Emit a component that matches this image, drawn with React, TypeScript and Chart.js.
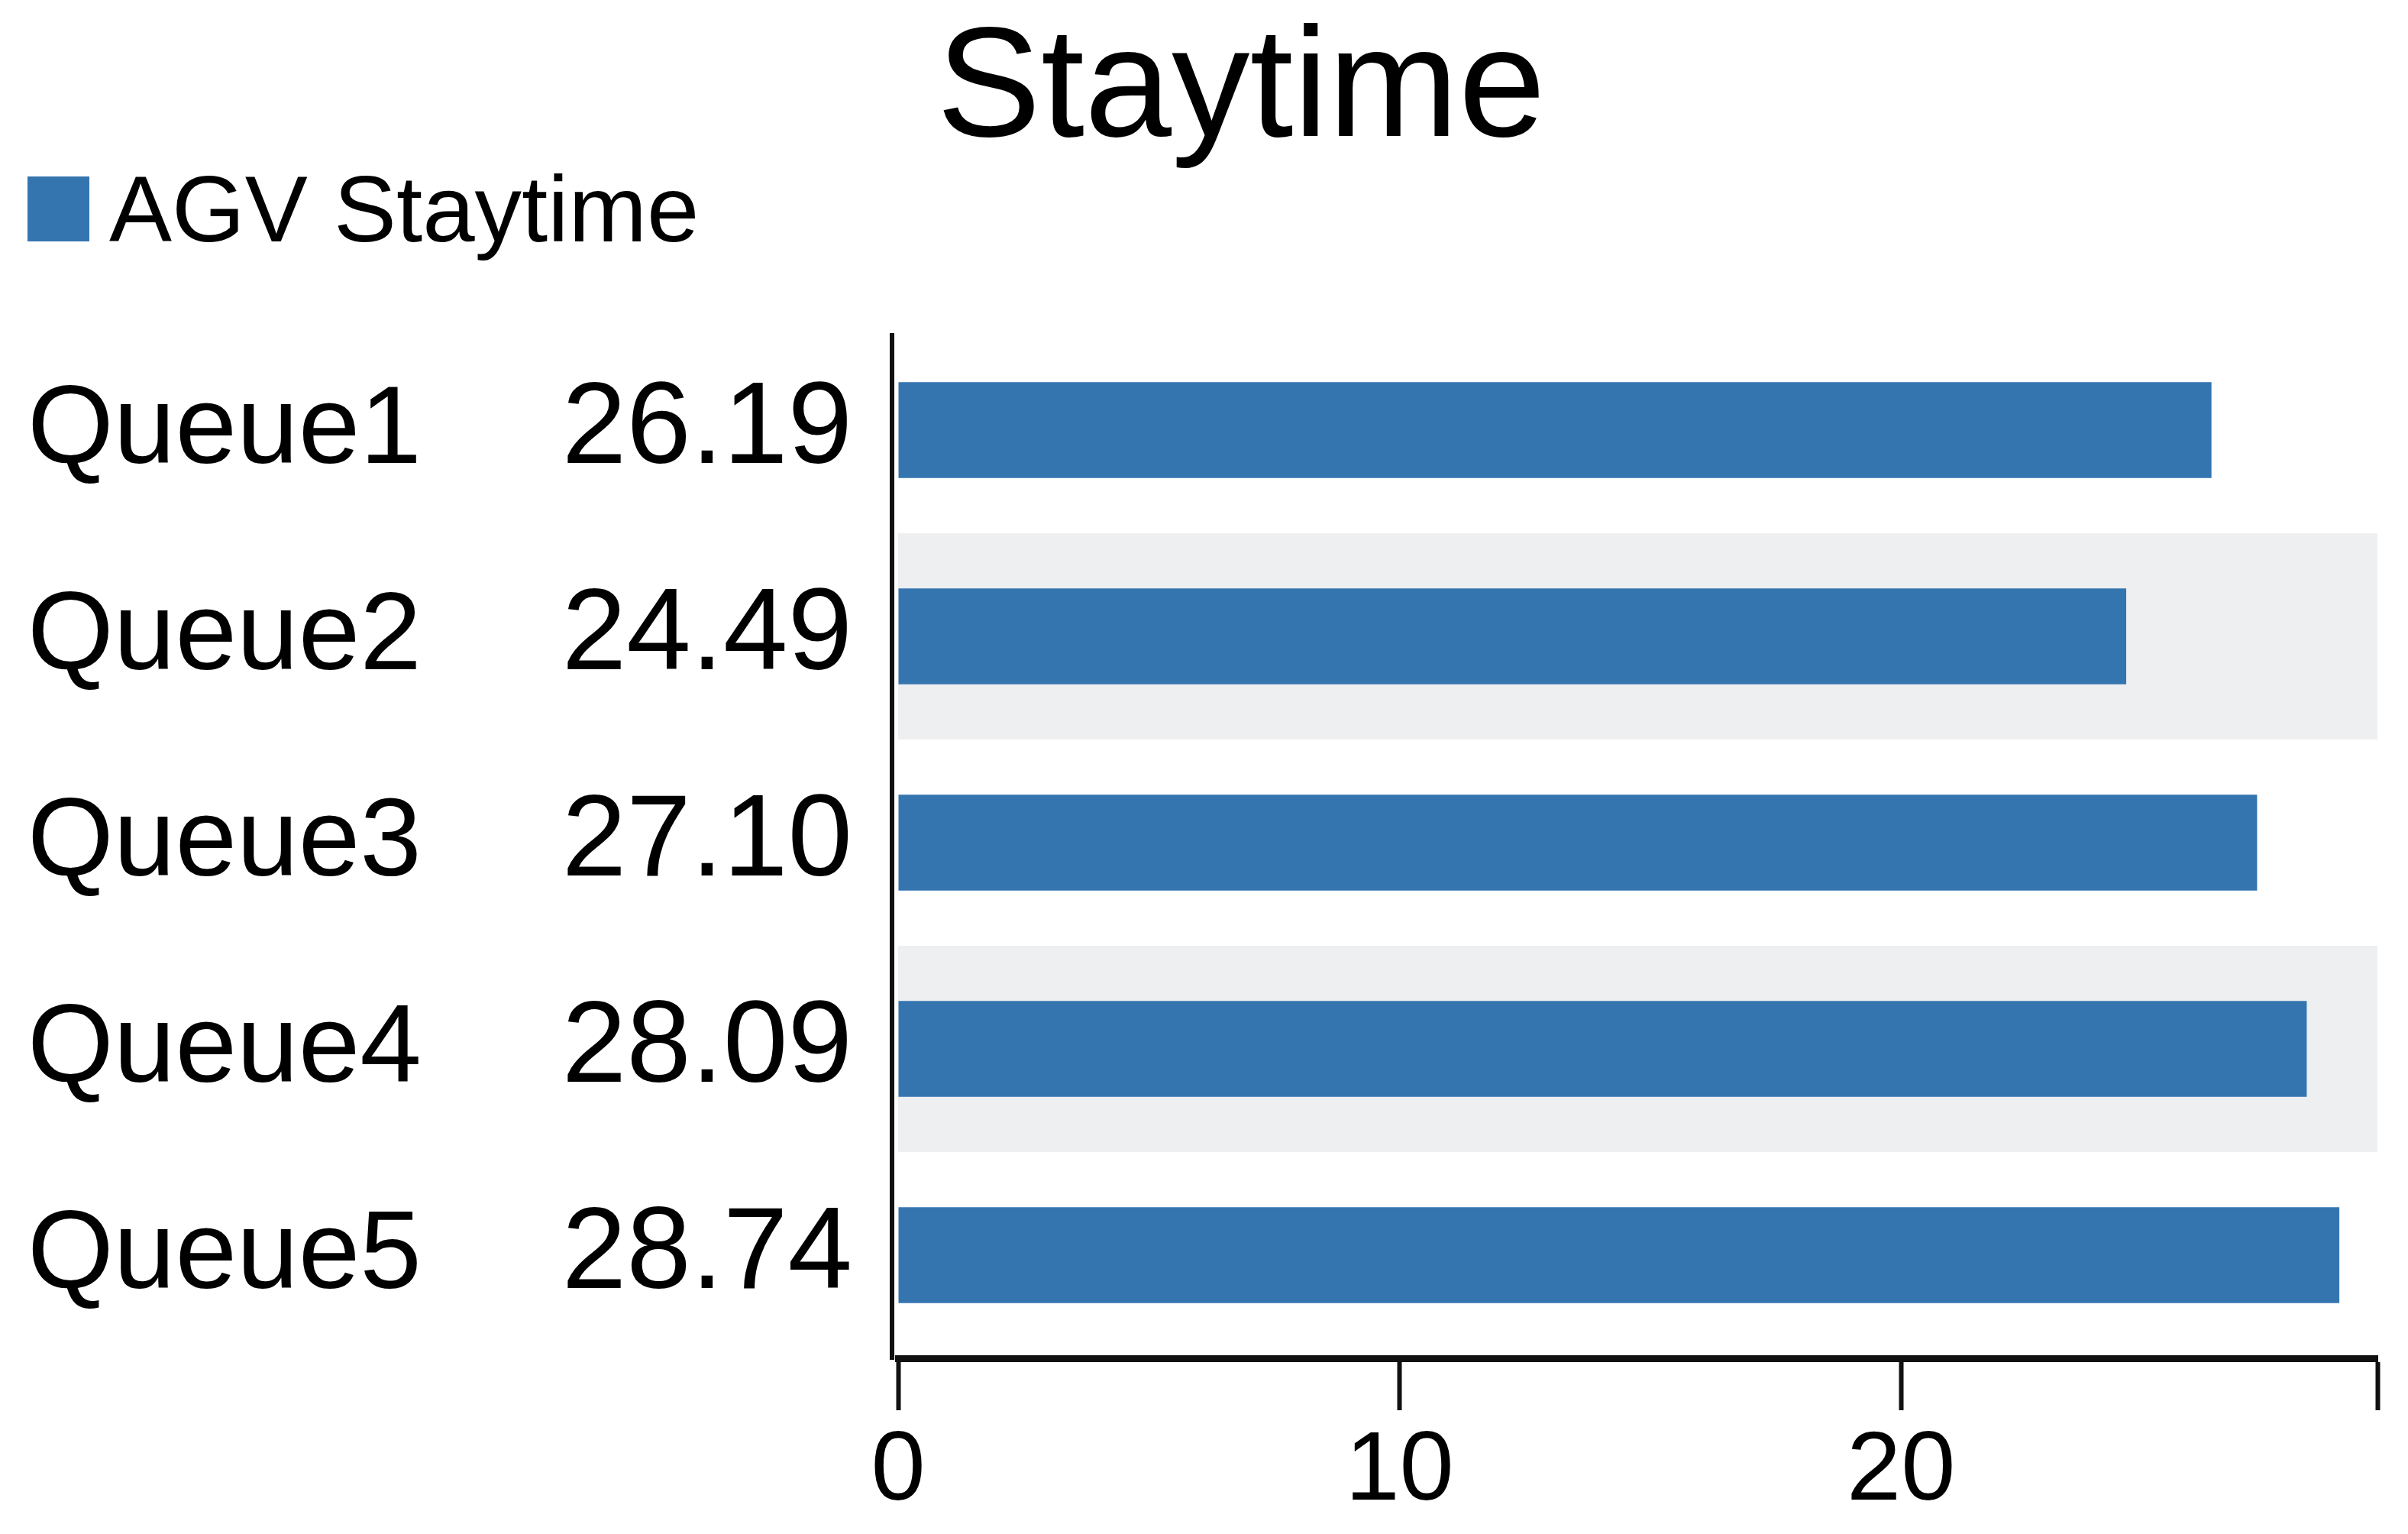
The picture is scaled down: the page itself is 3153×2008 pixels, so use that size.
import React, { useEffect, useRef } from "react";
import { Chart, registerables } from "chart.js";

Chart.register(...registerables);

const categories = ["Queue1", "Queue2", "Queue3", "Queue4", "Queue5"];
const staytime = [26.19, 24.49, 27.1, 28.09, 28.74];
const valueLabels = ["26.19", "24.49", "27.10", "28.09", "28.74"];
const xTickValues = [0, 10, 20];
const xMax = 29.5;
const shadedRows = [1, 3];
const titleText = "Staytime";
const seriesName = "AGV Staytime";

const W = 3153;
const H = 2008;
const FONT = '"Liberation Sans", Arial, Helvetica, sans-serif';
const BAR_COLOR = "#3475b0";
const BAND_COLOR = "#eeeff1";

export default function App() {
  const ref = useRef<HTMLCanvasElement | null>(null);

  useEffect(() => {
    const canvas = ref.current;
    if (!canvas) return;

    const decorPlugin = {
      id: "decor",
      beforeDatasetsDraw(chart: any) {
        const { ctx, chartArea, scales } = chart;
        const y = scales.y;
        const band = (chartArea.bottom - chartArea.top) / categories.length;
        ctx.save();
        ctx.fillStyle = BAND_COLOR;
        shadedRows.forEach((i) => {
          const c = y.getPixelForValue(i);
          ctx.fillRect(chartArea.left, c - band / 2, chartArea.right - chartArea.left, band);
        });
        ctx.restore();
      },
      afterDraw(chart: any) {
        const { ctx, chartArea, scales } = chart;
        const y = scales.y;
        ctx.save();
        // y axis line
        ctx.strokeStyle = "#111";
        ctx.lineWidth = 6;
        ctx.beginPath();
        ctx.moveTo(chartArea.left - 8, chartArea.top + 8);
        ctx.lineTo(chartArea.left - 8, chartArea.bottom + 2);
        ctx.stroke();

        // category + value labels
        ctx.fillStyle = "#000";
        ctx.textBaseline = "alphabetic";
        categories.forEach((cat, i) => {
          const c = y.getPixelForValue(i);
          ctx.textAlign = "left";
          ctx.font = `145px ${FONT}`;
          ctx.fillText(cat, 36, c + 43);
          ctx.textAlign = "right";
          ctx.font = `152px ${FONT}`;
          ctx.fillText(valueLabels[i], 1116, c + 43);
        });

        // title
        ctx.textAlign = "center";
        ctx.font = `205px ${FONT}`;
        ctx.fillText(titleText, 1625, 178);

        // legend
        ctx.fillStyle = BAR_COLOR;
        ctx.fillRect(36, 231, 81, 85);
        ctx.fillStyle = "#000";
        ctx.textAlign = "left";
        ctx.font = `123px ${FONT}`;
        ctx.fillText(seriesName, 143, 316);
        ctx.restore();
      },
    };

    const chart = new Chart(canvas, {
      type: "bar",
      data: {
        labels: categories,
        datasets: [
          {
            label: seriesName,
            data: staytime,
            backgroundColor: BAR_COLOR,
            borderWidth: 0,
            barPercentage: 0.465,
            categoryPercentage: 1,
          },
        ],
      },
      options: {
        indexAxis: "y",
        responsive: false,
        animation: false,
        devicePixelRatio: 1,
        layout: { padding: { top: 428, right: 40, left: 0, bottom: 0 } },
        plugins: {
          legend: { display: false },
          title: { display: false },
          tooltip: { enabled: false },
        },
        scales: {
          y: {
            type: "category",
            offset: true,
            ticks: { display: false },
            grid: { display: false },
            border: { display: false },
            afterFit(s: any) {
              s.width = 1176;
            },
          },
          x: {
            type: "linear",
            min: 0,
            max: xMax,
            afterBuildTicks(s: any) {
              s.ticks = [...xTickValues, xMax].map((v) => ({ value: v }));
            },
            ticks: {
              color: "#000",
              font: { size: 128, family: FONT },
              padding: 5,
              maxRotation: 0,
              minRotation: 0,
              autoSkip: false,
              callback: (v: any) => (xTickValues.includes(Number(v)) ? String(v) : ""),
            },
            grid: {
              drawOnChartArea: false,
              drawTicks: true,
              tickLength: 68,
              tickWidth: 6,
              color: "#111",
            },
            border: { display: true, width: 9, color: "#111" },
            afterFit(s: any) {
              s.height = 230;
            },
          },
        },
      },
      plugins: [decorPlugin],
    });

    return () => chart.destroy();
  }, []);

  return (
    <div style={{ position: "fixed", left: 0, top: 0, width: W, height: H, background: "#fff" }}>
      <canvas ref={ref} width={W} height={H} style={{ width: W, height: H, display: "block" }} />
    </div>
  );
}
